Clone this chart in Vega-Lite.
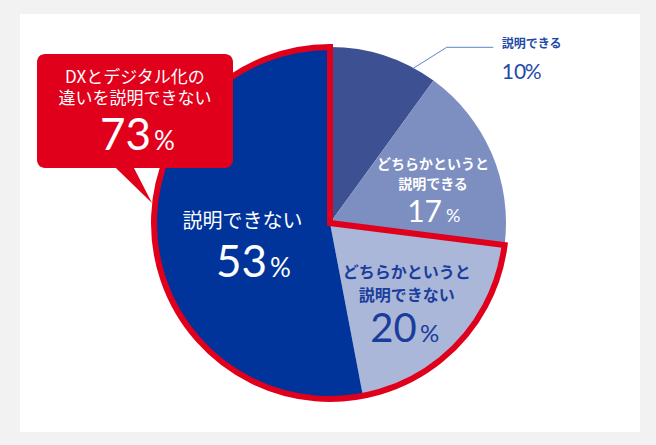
{
  "$schema": "https://vega.github.io/schema/vega-lite/v6.json",
  "width": 620,
  "height": 418,
  "padding": {"left": 20, "top": 14, "right": 16, "bottom": 13},
  "autosize": {"type": "none"},
  "background": "#f2f2f2",
  "config": {"view": {"fill": "white", "stroke": null}},
  "datasets": {
    "pie": [
      {"category": "説明できる", "value": 10, "lines": ["説明できる"]},
      {"category": "どちらかというと説明できる", "value": 17, "lines": ["どちらかというと", "説明できる"]},
      {"category": "どちらかというと説明できない", "value": 20, "lines": ["どちらかというと", "説明できない"]},
      {"category": "説明できない", "value": 53, "lines": ["説明できない"]}
    ],
    "group": [
      {"group": "その他", "value": 27, "lines": []},
      {"group": "DXとデジタル化の違いを説明できない", "value": 73, "lines": ["DXとデジタル化の", "違いを説明できない"]}
    ]
  },
  "layer": [
    {
      "data": {"name": "pie"},
      "mark": {"type": "arc", "outerRadius": 176},
      "encoding": {
        "theta": {"field": "value", "type": "quantitative", "stack": true},
        "order": {"field": "value", "type": "quantitative", "sort": "ascending"},
        "color": {
          "field": "category", "type": "nominal", "legend": null,
          "scale": {
            "domain": ["説明できる", "どちらかというと説明できる", "どちらかというと説明できない", "説明できない"],
            "range": ["#3d5192", "#7d8ec1", "#aab7d9", "#00349a"]
          }
        }
      }
    },
    {
      "data": {"name": "group"},
      "mark": {"type": "arc", "outerRadius": 176, "fill": "transparent", "stroke": "#e0001b", "strokeWidth": 6, "strokeJoin": "miter"},
      "encoding": {
        "theta": {"field": "value", "type": "quantitative", "stack": true},
        "order": {"field": "value", "type": "quantitative", "sort": "ascending"},
        "strokeOpacity": {"condition": {"test": "datum.value === 73", "value": 1}, "value": 0}
      }
    },
    {
      "data": {"name": "group"},
      "transform": [{"filter": "datum.value === 73"}],
      "mark": {"type": "rect", "color": "#e0001b", "cornerRadius": 8},
      "encoding": {
        "x": {"datum": -1.6648, "type": "quantitative", "axis": null, "scale": {"domain": [-1.76136, 1.76136], "nice": false, "zero": false}},
        "x2": {"datum": -0.5511},
        "y": {"datum": 0.9602, "type": "quantitative", "axis": null, "scale": {"domain": [-1.1875, 1.1875], "nice": false, "zero": false}},
        "y2": {"datum": 0.3125}
      }
    },
    {
      "data": {"name": "group"},
      "transform": [{"filter": "datum.value === 73"}],
      "mark": {"type": "point", "shape": "M-1.11,-1L-0.13,-1L0.85,0.9Z", "filled": true, "color": "#e0001b", "opacity": 1, "size": 1600, "strokeWidth": 0},
      "encoding": {
        "x": {"datum": -1.108, "type": "quantitative"},
        "y": {"datum": 0.2159, "type": "quantitative"}
      }
    },
    {
      "data": {"name": "pie"},
      "transform": [{"filter": "datum.value === 10"}],
      "mark": {"type": "rule", "color": "#5b86cf", "strokeWidth": 1},
      "encoding": {
        "x": {"datum": 0.4733, "type": "quantitative"},
        "y": {"datum": 0.879, "type": "quantitative"},
        "x2": {"datum": 0.6631},
        "y2": {"datum": 0.9983}
      }
    },
    {
      "data": {"name": "pie"},
      "transform": [{"filter": "datum.value === 10"}],
      "mark": {"type": "rule", "color": "#5b86cf", "strokeWidth": 1},
      "encoding": {
        "x": {"datum": 0.6631, "type": "quantitative"},
        "y": {"datum": 0.9983, "type": "quantitative"},
        "x2": {"datum": 0.9278},
        "y2": {"datum": 0.9983}
      }
    },
    {
      "data": {"name": "group"},
      "transform": [{"filter": "datum.value === 73"}],
      "mark": {"type": "text", "font": "Noto Sans CJK JP", "fontSize": 17, "color": "white", "align": "center", "baseline": "middle", "lineHeight": 21},
      "encoding": {
        "x": {"datum": -1.108, "type": "quantitative"},
        "y": {"datum": 0.8267, "type": "quantitative"},
        "text": {"field": "lines", "type": "nominal"}
      }
    },
    {
      "data": {"name": "group"},
      "transform": [{"filter": "datum.value === 73"}],
      "mark": {"type": "text", "font": "Lato", "fontSize": 44, "color": "white", "align": "right", "baseline": "alphabetic"},
      "encoding": {
        "x": {"datum": -1.017, "type": "quantitative"},
        "y": {"datum": 0.4148, "type": "quantitative"},
        "text": {"field": "value", "type": "quantitative"}
      }
    },
    {
      "data": {"name": "group"},
      "transform": [{"filter": "datum.value === 73"}],
      "mark": {"type": "text", "font": "Lato", "fontSize": 26, "color": "white", "align": "left", "baseline": "alphabetic", "text": "%"},
      "encoding": {
        "x": {"datum": -1.0, "type": "quantitative"},
        "y": {"datum": 0.4148, "type": "quantitative"}
      }
    },
    {
      "data": {"name": "pie"},
      "transform": [{"filter": "datum.value === 53"}],
      "mark": {"type": "text", "font": "Noto Sans CJK JP", "fontSize": 20, "color": "white", "align": "center", "baseline": "middle"},
      "encoding": {
        "x": {"datum": -0.4972, "type": "quantitative"},
        "y": {"datum": 0.0074, "type": "quantitative"},
        "text": {"field": "lines", "type": "nominal"}
      }
    },
    {
      "data": {"name": "pie"},
      "transform": [{"filter": "datum.value === 53"}],
      "mark": {"type": "text", "font": "Lato", "fontSize": 44, "color": "white", "align": "right", "baseline": "alphabetic"},
      "encoding": {
        "x": {"datum": -0.358, "type": "quantitative"},
        "y": {"datum": -0.3051, "type": "quantitative"},
        "text": {"field": "value", "type": "quantitative"}
      }
    },
    {
      "data": {"name": "pie"},
      "transform": [{"filter": "datum.value === 53"}],
      "mark": {"type": "text", "font": "Lato", "fontSize": 26, "color": "white", "align": "left", "baseline": "alphabetic", "text": "%"},
      "encoding": {
        "x": {"datum": -0.3409, "type": "quantitative"},
        "y": {"datum": -0.3051, "type": "quantitative"}
      }
    },
    {
      "data": {"name": "pie"},
      "transform": [{"filter": "datum.value === 17"}],
      "mark": {"type": "text", "font": "Noto Sans CJK JP", "fontWeight": "bold", "fontSize": 14, "color": "white", "align": "center", "baseline": "middle", "lineHeight": 20},
      "encoding": {
        "x": {"datum": 0.5852, "type": "quantitative"},
        "y": {"datum": 0.3295, "type": "quantitative"},
        "text": {"field": "lines", "type": "nominal"}
      }
    },
    {
      "data": {"name": "pie"},
      "transform": [{"filter": "datum.value === 17"}],
      "mark": {"type": "text", "font": "Lato", "fontSize": 30, "color": "white", "align": "right", "baseline": "alphabetic"},
      "encoding": {
        "x": {"datum": 0.6364, "type": "quantitative"},
        "y": {"datum": 0.0074, "type": "quantitative"},
        "text": {"field": "value", "type": "quantitative"}
      }
    },
    {
      "data": {"name": "pie"},
      "transform": [{"filter": "datum.value === 17"}],
      "mark": {"type": "text", "font": "Lato", "fontSize": 18, "color": "white", "align": "left", "baseline": "alphabetic", "text": "%"},
      "encoding": {
        "x": {"datum": 0.6591, "type": "quantitative"},
        "y": {"datum": 0.0074, "type": "quantitative"}
      }
    },
    {
      "data": {"name": "pie"},
      "transform": [{"filter": "datum.value === 20"}],
      "mark": {"type": "text", "font": "Noto Sans CJK JP", "fontWeight": "bold", "fontSize": 16, "color": "#1a3d9c", "align": "center", "baseline": "middle", "lineHeight": 23},
      "encoding": {
        "x": {"datum": 0.4358, "type": "quantitative"},
        "y": {"datum": -0.2858, "type": "quantitative"},
        "text": {"field": "lines", "type": "nominal"}
      }
    },
    {
      "data": {"name": "pie"},
      "transform": [{"filter": "datum.value === 20"}],
      "mark": {"type": "text", "font": "Lato", "fontSize": 40, "color": "#1a3d9c", "align": "right", "baseline": "alphabetic"},
      "encoding": {
        "x": {"datum": 0.4926, "type": "quantitative"},
        "y": {"datum": -0.6744, "type": "quantitative"},
        "text": {"field": "value", "type": "quantitative"}
      }
    },
    {
      "data": {"name": "pie"},
      "transform": [{"filter": "datum.value === 20"}],
      "mark": {"type": "text", "font": "Lato", "fontSize": 24, "color": "#1a3d9c", "align": "left", "baseline": "alphabetic", "text": "%"},
      "encoding": {
        "x": {"datum": 0.5114, "type": "quantitative"},
        "y": {"datum": -0.6744, "type": "quantitative"}
      }
    },
    {
      "data": {"name": "pie"},
      "transform": [{"filter": "datum.value === 10"}],
      "mark": {"type": "text", "font": "Noto Sans CJK JP", "fontWeight": "bold", "fontSize": 12, "color": "#1f4aa5", "align": "left", "baseline": "middle"},
      "encoding": {
        "x": {"datum": 0.9756, "type": "quantitative"},
        "y": {"datum": 1.017, "type": "quantitative"},
        "text": {"field": "lines", "type": "nominal"}
      }
    },
    {
      "data": {"name": "pie"},
      "transform": [{"filter": "datum.value === 10"}],
      "mark": {"type": "text", "font": "Lato", "fontSize": 21, "color": "#1f4aa5", "align": "left", "baseline": "alphabetic"},
      "encoding": {
        "x": {"datum": 0.9756, "type": "quantitative"},
        "y": {"datum": 0.817, "type": "quantitative"},
        "text": {"field": "value", "type": "quantitative"}
      }
    },
    {
      "data": {"name": "pie"},
      "transform": [{"filter": "datum.value === 10"}],
      "mark": {"type": "text", "font": "Lato", "fontSize": 21, "color": "#1f4aa5", "align": "left", "baseline": "alphabetic", "text": "%", "dx": 23},
      "encoding": {
        "x": {"datum": 0.9756, "type": "quantitative"},
        "y": {"datum": 0.817, "type": "quantitative"}
      }
    }
  ]
}
